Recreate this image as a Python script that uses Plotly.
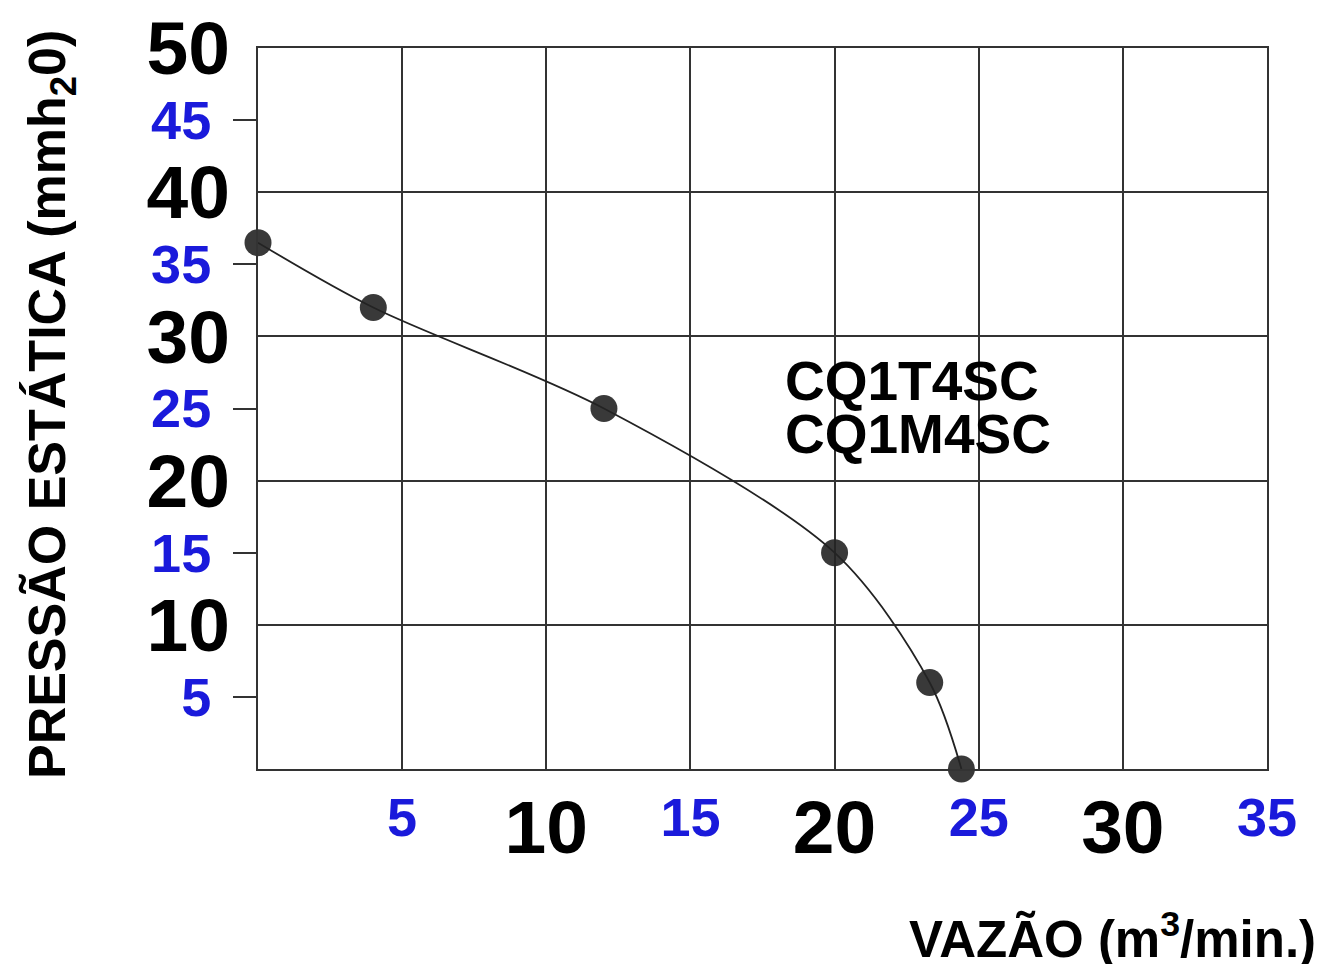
import plotly.graph_objects as go

# Data
flow = [0, 4, 12, 20, 23.3, 24.4]              # VAZÃO (m3/min.)
pressure = [36.5, 32.0, 25.0, 15.0, 6.0, 0.0]  # PRESSÃO ESTÁTICA (mmh2O)

x_major_vals = [10, 20, 30]
x_major_text = ["10", "20", "30"]
x_minor_vals = [5, 15, 25, 35]
x_minor_text = ["5", "15", "25", "35"]

y_major_vals = [10, 20, 30, 40, 50]
y_major_text = ["10", "20", "30", "40", "50"]
y_minor_vals = [5, 15, 25, 35, 45]
y_minor_text = ["5", "15", "25", "35", "45"]

model_labels = ["CQ1T4SC", "CQ1M4SC"]

FONT = "Liberation Sans"
GRID = "#333333"
BLUE = "#1a1adb"

fig = go.Figure()
fig.add_trace(go.Scatter(
    x=flow, y=pressure, mode="lines+markers",
    line=dict(color="#222222", width=1.8, shape="spline", smoothing=0.9),
    marker=dict(size=27, color="rgba(35,35,35,0.9)", line=dict(width=0)),
    cliponaxis=False, showlegend=False, hoverinfo="skip",
))
# invisible trace for the overlay axes
fig.add_trace(go.Scatter(x=[None], y=[None], xaxis="x2", yaxis="y2",
                         showlegend=False, hoverinfo="skip"))

fig.update_layout(
    width=1316, height=956,
    margin=dict(l=250, r=57, t=40, b=195, autoexpand=False),
    paper_bgcolor="white", plot_bgcolor="white",
    font=dict(family=FONT, color="black"),
    xaxis=dict(
        range=[0, 35], tickvals=x_major_vals, ticktext=x_major_text,
        showgrid=True, gridcolor=GRID, gridwidth=2, zeroline=False,
        showline=True, mirror=True, linecolor=GRID, linewidth=2,
        ticks="", ticklabelstandoff=-8, ticklabeloverflow="allow",
        automargin=False,
        tickfont=dict(family=FONT, size=75, color="black", weight="bold"),
    ),
    xaxis2=dict(
        range=[0, 35], overlaying="x", anchor="y", side="bottom",
        tickvals=x_minor_vals, ticktext=x_minor_text,
        showgrid=True, gridcolor=GRID, gridwidth=2,
        zeroline=False, showline=False, ticks="",
        ticklabelstandoff=12, ticklabeloverflow="allow",
        automargin=False,
        tickfont=dict(family=FONT, size=54, color=BLUE, weight="bold"),
    ),
    yaxis=dict(
        range=[0, 50], tickvals=y_major_vals, ticktext=y_major_text,
        showgrid=True, gridcolor=GRID, gridwidth=2, zeroline=False,
        showline=True, mirror=True, linecolor=GRID, linewidth=2,
        ticks="", ticklabelstandoff=11, ticklabeloverflow="allow",
        automargin=False,
        tickfont=dict(family=FONT, size=75, color="black", weight="bold"),
    ),
    yaxis2=dict(
        range=[0, 50], overlaying="y", anchor="x", side="left",
        tickvals=y_minor_vals, ticktext=y_minor_text,
        showgrid=False, zeroline=False, showline=False,
        ticks="outside", ticklen=24, tickwidth=2, tickcolor=GRID,
        ticklabelstandoff=11, ticklabeloverflow="allow",
        automargin=False,
        tickfont=dict(family=FONT, size=54, color=BLUE, weight="bold"),
    ),
)

# Axis titles
fig.add_annotation(
    xref="paper", yref="paper", x=-0.205, y=0.505,
    text="PRESSÃO ESTÁTICA (mmh<sub>2</sub>0)", textangle=-90,
    showarrow=False, xanchor="center", yanchor="middle",
    font=dict(family=FONT, size=52, color="black", weight="bold"),
)
fig.add_annotation(
    xref="paper", yref="paper", x=1.0505, y=-0.232,
    text="VAZÃO (m<sup>3</sup>/min.)",
    showarrow=False, xanchor="right", yanchor="middle",
    font=dict(family=FONT, size=51, color="black", weight="bold"),
)
# Model labels
for label, yv in zip(model_labels, [26.9, 23.2]):
    fig.add_annotation(
        xref="x", yref="y", x=18.2, y=yv, text=label,
        showarrow=False, xanchor="left", yanchor="middle",
        font=dict(family=FONT, size=55, color="black", weight="bold"),
    )

fig.write_html("out.html")
